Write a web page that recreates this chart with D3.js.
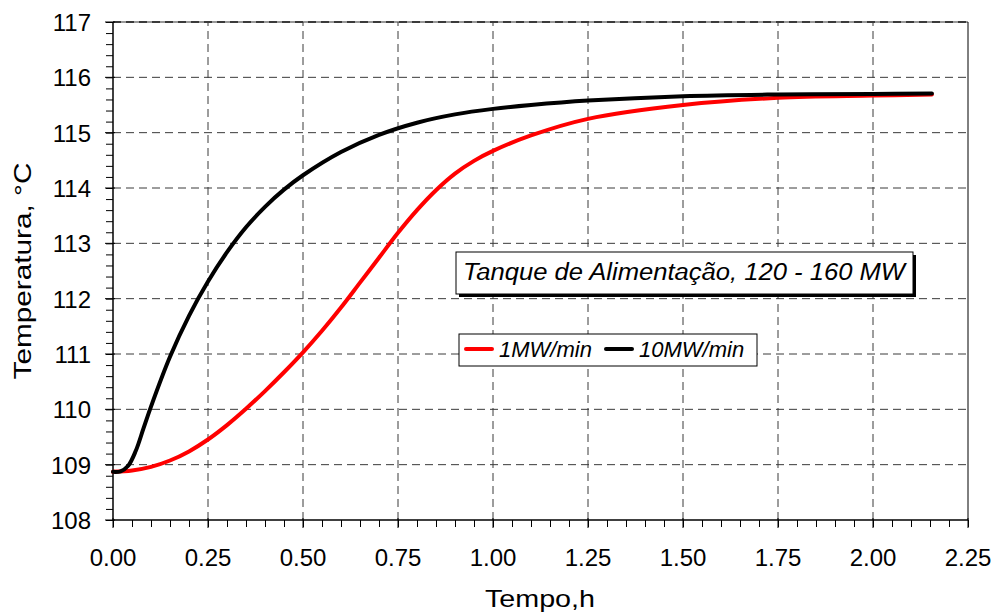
<!DOCTYPE html>
<meta charset="utf-8">
<html>
<head>
  <style>
    body { margin: 0; background: #fff; }
    svg { font-family: "Liberation Sans", Arial, sans-serif; }
    .grid line { stroke: #3a3a3a; stroke-dasharray: 8,5; stroke-width: 1; }
    .ticklabel { font-size: 24px; }
    .axislabel { font-size: 24px; text-anchor: middle; }
  </style>
  <script src="https://d3js.org/d3.v7.min.js"></script>
</head>
<body>
<svg width="995" height="615"></svg>
<script>
// time in hours, temperature in degC
var tRed   = [0, 0.05, 0.1, 0.15, 0.2, 0.25, 0.3, 0.35, 0.4, 0.45, 0.5, 0.55, 0.6, 0.65, 0.7, 0.75, 0.8, 0.85, 0.9, 0.95, 1.0, 1.1, 1.25, 1.5, 1.75, 2.0, 2.155];
var red    = [108.87, 108.895, 108.96, 109.075, 109.24, 109.455, 109.715, 110.01, 110.33, 110.67, 111.03, 111.42, 111.84, 112.29, 112.74, 113.19, 113.6, 113.96, 114.26, 114.49, 114.67, 114.95, 115.25, 115.5, 115.63, 115.67, 115.69];
var tBlack = [0, 0.02, 0.04, 0.06, 0.08, 0.1, 0.15, 0.2, 0.25, 0.3, 0.35, 0.4, 0.45, 0.5, 0.6, 0.7, 0.8, 0.9, 1.0, 1.1, 1.25, 1.5, 1.75, 2.0, 2.155];
var black  = [108.87, 108.88, 108.98, 109.25, 109.65, 110.05, 110.95, 111.69, 112.31, 112.84, 113.29, 113.66, 113.97, 114.23, 114.65, 114.96, 115.18, 115.33, 115.43, 115.5, 115.58, 115.66, 115.69, 115.7, 115.71];
var xTicks = [0, 0.25, 0.5, 0.75, 1.0, 1.25, 1.5, 1.75, 2.0, 2.25];
var yTicks = [108, 109, 110, 111, 112, 113, 114, 115, 116, 117];
var seriesNames = ["1MW/min", "10MW/min"];
var seriesColors = ["#ff0000", "#000000"];

var svg = d3.select("svg");
var margin = {left: 113, top: 22, right: 968, bottom: 520};

var x = d3.scaleLinear().domain([0, 2.25]).range([margin.left, margin.right]);
var y = d3.scaleLinear().domain([108, 117]).range([margin.bottom, margin.top]);

// top edge: grey line under the dashed gridline
svg.append("line").attr("x1", x(0)).attr("x2", x(2.25)).attr("y1", y(117)).attr("y2", y(117))
  .attr("stroke", "#999").attr("stroke-width", 2);

// grid
var grid = svg.append("g").attr("class", "grid");
grid.selectAll(".vx").data(xTicks.slice(1, -1)).enter().append("line")
  .attr("x1", function(d) { return x(d); }).attr("x2", function(d) { return x(d); })
  .attr("y1", y(108)).attr("y2", y(117));
grid.selectAll(".hy").data(yTicks.slice(1)).enter().append("line")
  .attr("y1", function(d) { return y(d); }).attr("y2", function(d) { return y(d); })
  .attr("x1", x(0)).attr("x2", x(2.25))
  .style("stroke-width", function(d) { return d == 117 ? 2 : 1; });

// frame: left, bottom and right solid
svg.append("line").attr("x1", x(0)).attr("x2", x(0)).attr("y1", y(108)).attr("y2", y(117)).attr("stroke", "#000").attr("stroke-width", 1.5);
svg.append("line").attr("x1", x(0)).attr("x2", x(2.25)).attr("y1", y(108)).attr("y2", y(108)).attr("stroke", "#000").attr("stroke-width", 1.5);
svg.append("line").attr("x1", x(2.25)).attr("x2", x(2.25)).attr("y1", y(108)).attr("y2", y(117)).attr("stroke", "#000").attr("stroke-width", 1);

// axes with minor ticks
var xAxis = d3.axisBottom(x).tickValues(d3.range(0, 2.2501, 0.05)).tickSize(7).tickFormat("");
svg.append("g").attr("transform", "translate(0," + y(108) + ")").call(xAxis)
  .call(function(g) { g.select(".domain").remove(); g.selectAll("line").attr("stroke", "#000"); });
var yAxis = d3.axisLeft(y).tickValues(d3.range(108, 117.001, 0.2)).tickSize(7).tickFormat("");
svg.append("g").attr("transform", "translate(" + x(0) + ",0)").call(yAxis)
  .call(function(g) { g.select(".domain").remove(); g.selectAll("line").attr("stroke", "#000"); });
// major ticks cross the axis
svg.selectAll(".ymaj").data(yTicks).enter().append("line")
  .attr("x1", x(0) - 8).attr("x2", x(0) + 2)
  .attr("y1", function(d) { return y(d); }).attr("y2", function(d) { return y(d); })
  .attr("stroke", "#000");
svg.selectAll(".xmaj").data(xTicks).enter().append("line")
  .attr("x1", function(d) { return x(d); }).attr("x2", function(d) { return x(d); })
  .attr("y1", y(108) - 2).attr("y2", y(108) + 8)
  .attr("stroke", "#000");

// tick labels
svg.selectAll(".xl").data(xTicks).enter().append("text")
  .attr("class", "ticklabel").attr("text-anchor", "middle")
  .attr("x", function(d) { return x(d); }).attr("y", 566)
  .text(function(d) { return d3.format(".2f")(d); });
svg.selectAll(".yl").data(yTicks).enter().append("text")
  .attr("class", "ticklabel").attr("text-anchor", "end")
  .attr("x", 91).attr("y", function(d) { return y(d) + 9; })
  .text(function(d) { return d; });

// axis titles (the original font runs a bit wider)
svg.append("text").attr("class", "axislabel").attr("x", 540).attr("y", 607)
  .attr("textLength", 110).attr("lengthAdjust", "spacingAndGlyphs").text("Tempo,h");
svg.append("text").attr("class", "axislabel")
  .attr("transform", "translate(31," + ((y(108) + y(117)) / 2) + ") rotate(-90)")
  .attr("textLength", 217).attr("lengthAdjust", "spacingAndGlyphs")
  .text("Temperatura,  \u00B0C");

// curves
var line = d3.line().curve(d3.curveCatmullRom.alpha(0.5))
  .x(function(d) { return x(d[0]); }).y(function(d) { return y(d[1]); });
svg.append("path").datum(d3.zip(tRed, red))
  .attr("d", line).attr("fill", "none").attr("stroke", seriesColors[0])
  .attr("stroke-width", 4).attr("stroke-linecap", "round");
svg.append("path").datum(d3.zip(tBlack, black))
  .attr("d", line).attr("fill", "none").attr("stroke", seriesColors[1])
  .attr("stroke-width", 4).attr("stroke-linecap", "round");

// annotation box with shadow
svg.append("rect").attr("x", 459).attr("y", 255).attr("width", 457).attr("height", 42).attr("fill", "#000");
svg.append("rect").attr("x", 456).attr("y", 252).attr("width", 457).attr("height", 42)
  .attr("fill", "#fff").attr("stroke", "#000").attr("stroke-width", 1);
svg.append("text").attr("x", 463).attr("y", 280)
  .style("font-size", "23px").style("font-style", "italic")
  .attr("textLength", 442).attr("lengthAdjust", "spacingAndGlyphs")
  .text("Tanque de Alimentação, 120 - 160 MW");

// legend
svg.append("rect").attr("x", 459).attr("y", 334).attr("width", 298).attr("height", 32)
  .attr("fill", "#fff").attr("stroke", "#000").attr("stroke-width", 1);
var legX = [466, 606];
seriesNames.forEach(function(n, i) {
  svg.append("line").attr("x1", legX[i]).attr("x2", legX[i] + 26).attr("y1", 349).attr("y2", 349)
    .attr("stroke", seriesColors[i]).attr("stroke-width", 4).attr("stroke-linecap", "round");
  svg.append("text").attr("x", legX[i] + 33).attr("y", 357)
    .style("font-size", "22px").style("font-style", "italic").text(n);
});
</script>
</body>
</html>
